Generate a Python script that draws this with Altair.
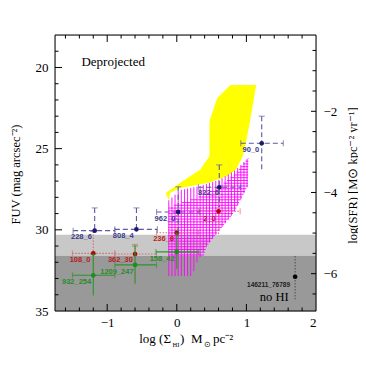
import altair as alt
import pandas as pd
import numpy as np

W, H = 261, 276
SERIF = "Liberation Serif"

# ---------------- data ----------------
blue_x   = [-1.18, -0.58, 0.02, 0.61, 1.22]
blue_y   = [30.05, 29.97, 28.90, 27.38, 24.67]
blue_xlo = [-1.49, -0.89, -0.29, 0.31, 0.92]
blue_xhi = [-0.89, -0.28, 0.33, 0.92, 1.53]
blue_ylo = [28.65, 28.65, 27.35, 26.0, 23.0]
blue_yhi = [30.05, 29.97, 30.4, 28.6, 26.3]
blue_lab = ["228_6", "808_4", "962_0", "822_0", "90_0"]
blue_lx  = [-1.37, -0.77, -0.17, 0.455, 1.065]
blue_ly  = [30.46, 30.38, 29.33, 27.75, 25.07]

red_x   = [-1.2, -0.6, 0.0, 0.6]
red_y   = [31.45, 31.49, 30.18, 28.86]
red_xlo = [-1.5, -0.89, -0.29, 0.31]
red_xhi = [-0.89, -0.29, 0.31, 0.91]
red_ylo = [30.1, 30.9, 28.9, 27.4]
red_yhi = [32.7, 33.4, 32.5, 30.3]
red_lab = ["108_0", "362_30", "236_8", "2_0"]
red_lx  = [-1.39, -0.81, -0.19, 0.47]
red_ly  = [31.86, 31.86, 30.58, 29.31]

green_x   = [-1.2, -0.6, 0.0]
green_y   = [32.80, 32.16, 31.36]
green_xlo = [-1.5, -0.89, -0.3]
green_xhi = [-0.89, -0.29, 0.31]
green_ylo = [31.5, 31.0, 30.2]
green_yhi = [34.04, 33.3, 32.4]
green_lab = ["932_254", "1209_247", "158_42"]
green_lx  = [-1.44, -0.86, -0.21]
green_ly  = [33.21, 32.58, 31.78]

black_x, black_y = [1.70], [32.89]
black_ylo, black_yhi = [31.62], [34.28]

band_top = [30.3, 31.6]
band_bot = [31.6, 35.0]
band_col = ["#c8c8c8", "#999999"]

# yellow region: rows of FUV with left / right edges
yel_y = [21.08, 21.9, 23.3, 24.45, 25.45, 26.3, 26.7, 27.1, 27.42, 27.73, 28.14]
yel_l = [0.77, 0.58, 0.47, 0.47, 0.47, 0.336, 0.19, 0.05, -0.055, -0.158, -0.12]
yel_r = [1.14, 1.108, 1.053, 1.0, 0.95, 0.85, 0.72, 0.46, 0.05, -0.10, -0.11]

# magenta hatched regions (polygon vertices)
hv_x = [-0.12, 0.05, 0.33, 0.62, 0.85, 1.03, 1.02, 0.82, 0.62, 0.43, 0.29, 0.22, -0.12]
hv_y = [28.2, 27.55, 27.3, 26.9, 26.3, 25.55, 27.3, 28.95, 29.98, 31.0, 32.0, 32.85, 32.85]
hh_x = [-0.12, 0.3, 0.6, 0.85, 1.03, 1.02, 0.82, 0.62, 0.43, 0.39, -0.12]
hh_y = [28.6, 28.0, 27.4, 26.5, 25.55, 27.3, 28.95, 29.98, 31.0, 31.6, 31.6]

x_ticks_major = [-1, 0, 1]
x_ticks_minor = [-1.6, -1.4, -1.2, -0.8, -0.6, -0.4, -0.2, 0.2, 0.4, 0.6, 0.8, 1.2, 1.4, 1.6, 1.8]
y_ticks_major = [20, 25, 30]
y_ticks_minor = [19, 21, 22, 23, 24, 26, 27, 28, 29, 31, 32, 33, 34]
sfr_ticks_major = [-2, -4, -6]
sfr_ticks_minor = [-0.5, -1, -1.5, -2.5, -3, -3.5, -4.5, -5, -5.5, -6.5]

# ---------------- helpers ----------------
def cross_segments(px, py, lines, vertical=True):
    out = []
    n = len(px)
    for c in lines:
        hits = []
        for i in range(n):
            a1, b1 = (px[i], py[i]) if vertical else (py[i], px[i])
            a2, b2 = (px[(i + 1) % n], py[(i + 1) % n]) if vertical else (py[(i + 1) % n], px[(i + 1) % n])
            if (a1 <= c < a2) or (a2 <= c < a1):
                t = (c - a1) / (a2 - a1)
                hits.append(b1 + t * (b2 - b1))
        hits.sort()
        for s, e in zip(hits[0::2], hits[1::2]):
            out.append({"c": float(c), "s": float(s), "e": float(e)})
    return pd.DataFrame(out)

xs = alt.Scale(domain=[-1.75, 2.0], nice=False, zero=False)
ys = alt.Scale(domain=[18, 35], reverse=True, nice=False, zero=False)

x_axis = alt.Axis(values=[-1, 0, 1, 2], ticks=False, domain=False, grid=False,
                  labelFont=SERIF, labelFontSize=13, labelColor="black",
                  labelPadding=5, title="")
y_axis = alt.Axis(values=[20, 25, 30, 35], ticks=False, domain=False, grid=False,
                  labelFont=SERIF, labelFontSize=13, labelColor="black",
                  labelPadding=7, title="FUV (mag arcsec⁻²)",
                  titleFont=SERIF, titleFontSize=12.5, titleFontWeight="normal", titleColor="black",
                  titleX=-40, titleY=139, titleAngle=270,
                  titleAlign="center", titleBaseline="middle")

def X(f):
    return alt.X(f, type="quantitative", scale=xs, axis=x_axis)

def Y(f):
    return alt.Y(f, type="quantitative", scale=ys, axis=y_axis)

layers = []

# grey bands
bands = pd.DataFrame({"t": band_top, "b": band_bot, "c": band_col, "x0": [-1.75] * 2, "x1": [2.0] * 2})
layers.append(alt.Chart(bands).mark_rect().encode(
    x=X("x0"), x2="x1", y=Y("t"), y2="b", color=alt.Color("c:N", scale=None)))

# yellow region
yel = pd.DataFrame({"y": yel_y, "l": yel_l, "r": yel_r})
layers.append(alt.Chart(yel).mark_area(orient="horizontal", color="#ffff00", opacity=1).encode(
    y=Y("y"), x=X("l"), x2="r"))

# magenta hatch
vx = np.arange(-0.115, 1.04, 0.045)
hy = np.arange(25.6, 31.7, 0.17)
vseg = cross_segments(hv_x, hv_y, vx, vertical=True)
hseg = cross_segments(hh_x, hh_y, hy, vertical=False)
layers.append(alt.Chart(vseg).mark_rule(color="#ff00ff", strokeWidth=0.9).encode(
    x=X("c"), y=Y("s"), y2="e"))
layers.append(alt.Chart(hseg).mark_rule(color="#ff00ff", strokeWidth=0.9).encode(
    y=Y("c"), x=X("s"), x2="e"))

def series(xv, yv, xlo, xhi, ylo, yhi, lab, lx, ly, pcol, lcol, tcol, dash):
    df = pd.DataFrame({"x": xv, "y": yv, "xlo": xlo, "xhi": xhi, "ylo": ylo, "yhi": yhi,
                       "lab": lab, "lx": lx, "ly": ly})
    kw = dict(color=lcol, strokeWidth=1.1)
    if dash:
        kw["strokeDash"] = dash
    return [
        alt.Chart(df).mark_rule(**kw).encode(x=X("xlo"), x2="xhi", y=Y("y")),
        alt.Chart(df).mark_rule(**kw).encode(x=X("x"), y=Y("ylo"), y2="yhi"),
        alt.Chart(df).mark_tick(orient="vertical", size=6, thickness=1, color=lcol).encode(x=X("xlo"), y=Y("y")),
        alt.Chart(df).mark_tick(orient="vertical", size=6, thickness=1, color=lcol).encode(x=X("xhi"), y=Y("y")),
        alt.Chart(df).mark_tick(orient="horizontal", size=6, thickness=1, color=lcol).encode(x=X("x"), y=Y("ylo")),
        alt.Chart(df).mark_point(filled=True, shape="circle", size=22, color=pcol, opacity=1).encode(x=X("x"), y=Y("y")),
        alt.Chart(df).mark_text(font="Liberation Sans", fontSize=7.5, fontWeight="bold", color=tcol).encode(
            x=X("lx"), y=Y("ly"), text="lab:N"),
    ]

layers += series(red_x, red_y, red_xlo, red_xhi, red_ylo, red_yhi, red_lab, red_lx, red_ly,
                 "#b00000", "#d07070", "#b82020", [1.5, 1.5])
layers += series(green_x, green_y, green_xlo, green_xhi, green_ylo, green_yhi, green_lab, green_lx, green_ly,
                 "#1e8c1e", "#2a962a", "#2a8a2a", None)
layers += series(blue_x, blue_y, blue_xlo, blue_xhi, blue_ylo, blue_yhi, blue_lab, blue_lx, blue_ly,
                 "#1a1a6e", "#5a5aa0", "#3a3a88", [5, 3])

# black point
blk = pd.DataFrame({"x": black_x, "y": black_y, "ylo": black_ylo, "yhi": black_yhi})
layers.append(alt.Chart(blk).mark_rule(color="#555555", strokeDash=[1.5, 1.5], strokeWidth=1.1).encode(
    x=X("x"), y=Y("ylo"), y2="yhi"))
layers.append(alt.Chart(blk).mark_point(filled=True, shape="circle", size=22, color="black", opacity=1).encode(
    x=X("x"), y=Y("y")))

# annotations
ann_x = [-1.37, 1.40, 1.318]
ann_y = [19.65, 34.12, 33.38]
ann_t = ["Deprojected", "no HI", "146211_76789"]
ann = pd.DataFrame({"x": ann_x, "y": ann_y, "t": ann_t})
layers.append(alt.Chart(ann.iloc[[0]]).mark_text(font=SERIF, fontSize=13, align="left", color="black").encode(
    x=X("x"), y=Y("y"), text="t:N"))
layers.append(alt.Chart(ann.iloc[[1]]).mark_text(font=SERIF, fontSize=12.5, color="black").encode(
    x=X("x"), y=Y("y"), text="t:N"))
layers.append(alt.Chart(ann.iloc[[2]]).mark_text(font="Liberation Sans", fontSize=6.5, fontWeight="bold", color="#222222").encode(
    x=X("x"), y=Y("y"), text="t:N"))

# inward frame ticks
def vticks(vals, y0, y1):
    return alt.Chart(pd.DataFrame({"v": vals})).mark_rule(color="black", strokeWidth=1).encode(
        x=X("v"), y=alt.value(y0), y2=alt.value(y1))

def hticks(vals, x0, x1):
    return alt.Chart(pd.DataFrame({"v": vals})).mark_rule(color="black", strokeWidth=1).encode(
        y=Y("v"), x=alt.value(x0), x2=alt.value(x1))

layers += [vticks(x_ticks_major, H, H - 7), vticks(x_ticks_minor, H, H - 3.5),
           vticks(x_ticks_major, 0, 7), vticks(x_ticks_minor, 0, 3.5),
           hticks(y_ticks_major, 0, 7), hticks(y_ticks_minor, 0, 3.5)]

# frame
layers.append(alt.Chart(pd.DataFrame({"a": [0]})).mark_rect(filled=False, stroke="black", strokeWidth=1).encode(
    x=alt.value(0), x2=alt.value(W), y=alt.value(0), y2=alt.value(H)))

# bottom title built from pieces (subscripts)
tp_t  = ["log (Σ", "HI", ")", "M", "⊙", "pc⁻²"]
tp_x  = [116, 117.5, 125, 136, 148.5, 158]
tp_al = ["right", "left", "left", "left", "left", "left"]
tp_y  = [308, 312, 308, 308, 312, 308]
tp_fs = [13, 6.5, 13, 13, 7.5, 13]
for t, px, al, py, fs in zip(tp_t, tp_x, tp_al, tp_y, tp_fs):
    layers.append(alt.Chart(pd.DataFrame({"t": [t]})).mark_text(
        font=SERIF, fontSize=fs, align=al, baseline="alphabetic", color="black").encode(
        x=alt.value(px), y=alt.value(py), text="t:N"))

main = alt.layer(*layers)

# right axis: log(SFR)
sfr_scale = alt.Scale(domain=[-6.92, -0.12], nice=False, zero=False)
sfr_axis = alt.Axis(orient="right", values=sfr_ticks_major, ticks=False, domain=False, grid=False,
                    labelFont=SERIF, labelFontSize=13, labelColor="black", labelPadding=7,
                    title="log(SFR) [M⊙ kpc⁻² yr⁻¹]", titleFont=SERIF, titleFontSize=12.5,
                    titleFontWeight="normal", titleColor="black", titleX=36, titleY=140, titleAngle=270,
                    titleAlign="center", titleBaseline="middle")
sfr_major = pd.DataFrame({"v": sfr_ticks_major})
sfr_minor = pd.DataFrame({"v": sfr_ticks_minor})
right = alt.layer(
    alt.Chart(sfr_major).mark_rule(color="black", strokeWidth=1).encode(
        y=alt.Y("v:Q", scale=sfr_scale, axis=sfr_axis),
        x=alt.value(W), x2=alt.value(W - 5)),
    alt.Chart(sfr_minor).mark_rule(color="black", strokeWidth=1).encode(
        y=alt.Y("v:Q", scale=sfr_scale, axis=sfr_axis),
        x=alt.value(W), x2=alt.value(W - 3.5)),
)

chart = alt.layer(main, right).resolve_scale(y="independent").properties(
    width=W, height=H,
    autosize=alt.AutoSizeParams(type="none"),
    padding={"left": 47, "top": 27, "right": 42, "bottom": 47},
).configure_view(stroke=None).configure(background="white")

chart.save("out.html", embed_options={"renderer": "svg", "actions": False})
